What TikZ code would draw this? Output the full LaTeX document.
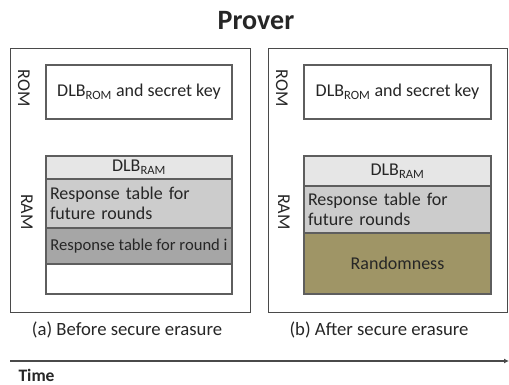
\documentclass[tikz,border=0pt]{standalone}
\usepackage{fontspec}
\setmainfont{Carlito}
\usetikzlibrary{arrows.meta,positioning}
\definecolor{ink}{HTML}{262626}
\definecolor{frame}{HTML}{4A4A4A}
\definecolor{cellborder}{HTML}{5E5E5E}
\definecolor{lightcell}{HTML}{E6E6E6}
\definecolor{midcell}{HTML}{CCCCCC}
\definecolor{darkcell}{HTML}{A6A6A6}
\definecolor{olive}{HTML}{9F9566}
\tikzset{
  memframe/.style={draw=frame,line width=0.9pt,fill=white},
  cell/.style={draw=cellborder,line width=1.1pt,inner sep=0pt,text=ink,font=\fontsize{18}{20.5}\selectfont},
  memlabel/.style={rotate=-90,text=ink,font=\fontsize{18}{20}\selectfont},
  caption/.style={text=ink,font=\fontsize{18.7}{21}\selectfont},
  timeline/.style={-{Latex[length=5pt,width=5pt]},draw=frame,line width=1.4pt}
}
\begin{document}
\begin{tikzpicture}[x=1pt,y=-1pt]
  \useasboundingbox (0,0) rectangle (509,385);

  \node[font=\bfseries\fontsize{28}{32}\selectfont,text=ink] (title) at (256,21) {Prover};

  % left side: before erasure
  \draw[memframe] (10,48) rectangle (250,312);
  \node[memlabel] (romA) at (24,88) {ROM};
  \node[memlabel] (ramA) at (27,212) {RAM};
  \node[cell,fill=white,minimum width=186pt,minimum height=54pt] (keyA) at (139,92)
    {DLB\textsubscript{ROM} and secret key};
  \node[cell,fill=lightcell,minimum width=186pt,minimum height=23pt] (dlbA) at (139,167.5)
    {DLB\textsubscript{RAM}};
  \node[cell,fill=midcell,minimum width=186pt,minimum height=49pt,text width=178pt,align=left] (futureA) at (139,203.5)
    {Response table for\\future rounds};
  \node[cell,fill=darkcell,minimum width=186pt,minimum height=36pt,font=\fontsize{16.6}{19}\selectfont] (roundA) at (139,246)
    {Response table for round i};
  \node[cell,fill=white,minimum width=186pt,minimum height=30pt] (freeA) at (139,279) {};
  \node[caption] (capA) at (127,330) {(a) Before secure erasure};

  % right side: after erasure
  \draw[memframe] (268,48) rectangle (507.5,312);
  \node[memlabel] (romB) at (282,88) {ROM};
  \node[memlabel] (ramB) at (284,212) {RAM};
  \node[cell,fill=white,minimum width=187pt,minimum height=54pt] (keyB) at (397.5,92)
    {DLB\textsubscript{ROM} and secret key};
  \node[cell,fill=lightcell,minimum width=187pt,minimum height=30pt] (dlbB) at (397.5,171)
    {DLB\textsubscript{RAM}};
  \node[cell,fill=midcell,minimum width=187pt,minimum height=47pt,text width=179pt,align=left] (futureB) at (397.5,209.5)
    {Response table for\\future rounds};
  \node[cell,fill=olive,minimum width=187pt,minimum height=61pt] (randB) at (397.5,263.5)
    {Randomness};
  \node[caption] (capB) at (379,330) {(b) After secure erasure};

  % time axis
  \coordinate (tstart) at (10,361);
  \coordinate (tend) at (509,361);
  \draw[timeline] (tstart) -- (tend);
  \node[anchor=base west,font=\bfseries\fontsize{17.5}{20}\selectfont,text=ink] (time) at (15,381) {Time};
\end{tikzpicture}
\end{document}
